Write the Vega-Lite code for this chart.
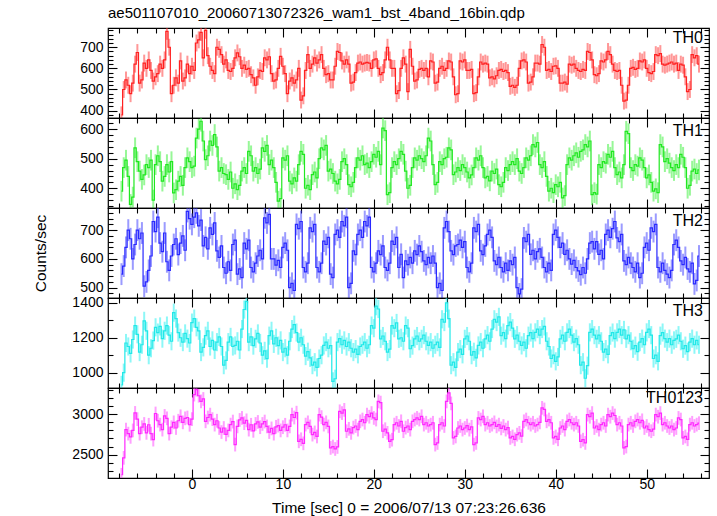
{
"$schema": "https://vega.github.io/schema/vega-lite/v6.json",
"background": "white",
"padding": {"left": 33, "top": 5, "right": 5, "bottom": 3},
"title": {"text": "ae501107010_20060713072326_wam1_bst_4band_16bin.qdp", "anchor": "start", "frame": "group", "fontSize": 15, "fontWeight": "normal", "font": "Liberation Sans", "color": "#000", "offset": 2},
"datasets": {
"err": [{"k": "a", "err": 40}, {"k": "b", "err": 35}, {"k": "c", "err": 38}, {"k": "d", "err": 52}, {"k": "e", "err": 85}],
"lc": [
{"t":-7.75,"a":380,"b":390,"c":547,"d":930,"e":2250},
{"t":-7.5,"a":500,"b":470,"c":575,"d":1000,"e":2460},
{"t":-7.25,"a":545,"b":495,"c":640,"d":1170,"e":2810},
{"t":-7,"a":520,"b":440,"c":700,"d":1150,"e":2760},
{"t":-6.75,"a":480,"b":345,"c":670,"d":1110,"e":2720},
{"t":-6.5,"a":530,"b":370,"c":600,"d":1190,"e":2800},
{"t":-6.25,"a":620,"b":537,"c":650,"d":1270,"e":3017},
{"t":-6,"a":675,"b":490,"c":700,"d":1220,"e":2940},
{"t":-5.75,"a":530,"b":458,"c":670,"d":1118,"e":2760},
{"t":-5.5,"a":545,"b":430,"c":690,"d":1160,"e":2840},
{"t":-5.25,"a":625,"b":445,"c":505,"d":1297,"e":2880},
{"t":-5,"a":600,"b":480,"c":520,"d":1240,"e":2770},
{"t":-4.75,"a":640,"b":470,"c":560,"d":1100,"e":2870},
{"t":-4.5,"a":590,"b":495,"c":610,"d":1140,"e":2760},
{"t":-4.25,"a":540,"b":360,"c":730,"d":1184,"e":2686},
{"t":-4,"a":560,"b":480,"c":695,"d":1260,"e":3010},
{"t":-3.75,"a":575,"b":510,"c":745,"d":1230,"e":2920},
{"t":-3.5,"a":620,"b":490,"c":655,"d":1265,"e":2872},
{"t":-3.25,"a":600,"b":424,"c":625,"d":1195,"e":2810},
{"t":-3,"a":640,"b":440,"c":690,"d":1240,"e":2980},
{"t":-2.75,"a":775,"b":480,"c":590,"d":1270,"e":2950},
{"t":-2.5,"a":700,"b":455,"c":560,"d":1215,"e":2760},
{"t":-2.25,"a":480,"b":490,"c":610,"d":1180,"e":2840},
{"t":-2,"a":520,"b":384,"c":650,"d":1344,"e":2900},
{"t":-1.75,"a":555,"b":395,"c":670,"d":1310,"e":2830},
{"t":-1.5,"a":530,"b":424,"c":615,"d":1230,"e":2920},
{"t":-1.25,"a":635,"b":440,"c":655,"d":1200,"e":2975},
{"t":-1,"a":540,"b":410,"c":680,"d":1175,"e":2900},
{"t":-0.75,"a":555,"b":470,"c":630,"d":1225,"e":2950},
{"t":-0.5,"a":620,"b":503,"c":765,"d":1195,"e":2960},
{"t":-0.25,"a":575,"b":490,"c":740,"d":1170,"e":2870},
{"t":0,"a":610,"b":470,"c":720,"d":1287,"e":2940},
{"t":0.25,"a":590,"b":475,"c":745,"d":1310,"e":3244},
{"t":0.5,"a":720,"b":570,"c":760,"d":1260,"e":3305},
{"t":0.75,"a":735,"b":600,"c":715,"d":1240,"e":3230},
{"t":1,"a":770,"b":627,"c":735,"d":1118,"e":3160},
{"t":1.25,"a":650,"b":560,"c":645,"d":1145,"e":3190},
{"t":1.5,"a":780,"b":497,"c":675,"d":1212,"e":2913},
{"t":1.75,"a":660,"b":510,"c":635,"d":1240,"e":2960},
{"t":2,"a":610,"b":560,"c":708,"d":1150,"e":2996},
{"t":2.25,"a":590,"b":545,"c":685,"d":1185,"e":2940},
{"t":2.5,"a":575,"b":582,"c":725,"d":1130,"e":2872},
{"t":2.75,"a":700,"b":540,"c":628,"d":1175,"e":2920},
{"t":3,"a":690,"b":458,"c":605,"d":1205,"e":2830},
{"t":3.25,"a":665,"b":470,"c":645,"d":1150,"e":2780},
{"t":3.5,"a":620,"b":450,"c":570,"d":1043,"e":2830},
{"t":3.75,"a":640,"b":446,"c":550,"d":1070,"e":2750},
{"t":4,"a":590,"b":430,"c":590,"d":1175,"e":2800},
{"t":4.25,"a":585,"b":455,"c":560,"d":1205,"e":2872},
{"t":4.5,"a":600,"b":400,"c":650,"d":1150,"e":2910},
{"t":4.75,"a":650,"b":415,"c":665,"d":1156,"e":2624},
{"t":5,"a":673,"b":395,"c":547,"d":1180,"e":2850},
{"t":5.25,"a":655,"b":410,"c":565,"d":1130,"e":2930},
{"t":5.5,"a":600,"b":458,"c":535,"d":1250,"e":2955},
{"t":5.75,"a":615,"b":470,"c":655,"d":1362,"e":2890},
{"t":6,"a":595,"b":450,"c":635,"d":1409,"e":2925},
{"t":6.25,"a":600,"b":525,"c":665,"d":1175,"e":2810},
{"t":6.5,"a":570,"b":510,"c":570,"d":1205,"e":2870},
{"t":6.75,"a":555,"b":458,"c":555,"d":1155,"e":2795},
{"t":7,"a":520,"b":470,"c":585,"d":1194,"e":2880},
{"t":7.25,"a":560,"b":450,"c":610,"d":1225,"e":2905},
{"t":7.5,"a":590,"b":465,"c":630,"d":1170,"e":2840},
{"t":7.75,"a":585,"b":537,"c":600,"d":1100,"e":2880},
{"t":8,"a":650,"b":525,"c":743,"d":1125,"e":2910},
{"t":8.25,"a":640,"b":545,"c":725,"d":1080,"e":2850},
{"t":8.5,"a":655,"b":480,"c":755,"d":1212,"e":2780},
{"t":8.75,"a":575,"b":495,"c":600,"d":1240,"e":2825},
{"t":9,"a":540,"b":470,"c":600,"d":1165,"e":2760},
{"t":9.25,"a":545,"b":420,"c":578,"d":1200,"e":2845},
{"t":9.5,"a":600,"b":356,"c":595,"d":1155,"e":2860},
{"t":9.75,"a":657,"b":365,"c":570,"d":1185,"e":2800},
{"t":10,"a":610,"b":503,"c":640,"d":1118,"e":2840},
{"t":10.25,"a":575,"b":495,"c":655,"d":1140,"e":2870},
{"t":10.5,"a":480,"b":510,"c":630,"d":1100,"e":2800},
{"t":10.75,"a":540,"b":424,"c":500,"d":1180,"e":2850},
{"t":11,"a":555,"b":415,"c":515,"d":1250,"e":2996},
{"t":11.25,"a":530,"b":435,"c":490,"d":1275,"e":2960},
{"t":11.5,"a":545,"b":424,"c":720,"d":1230,"e":3020},
{"t":11.75,"a":600,"b":480,"c":705,"d":1175,"e":2665},
{"t":12,"a":450,"b":525,"c":730,"d":1200,"e":2690},
{"t":12.25,"a":470,"b":515,"c":570,"d":1160,"e":2640},
{"t":12.5,"a":590,"b":400,"c":555,"d":1095,"e":2872},
{"t":12.75,"a":665,"b":410,"c":585,"d":1120,"e":2900},
{"t":13,"a":600,"b":395,"c":708,"d":1085,"e":2850},
{"t":13.25,"a":620,"b":446,"c":695,"d":1043,"e":2748},
{"t":13.5,"a":650,"b":455,"c":720,"d":1060,"e":2775},
{"t":13.75,"a":625,"b":435,"c":570,"d":1030,"e":2725},
{"t":14,"a":640,"b":500,"c":555,"d":1081,"e":2996},
{"t":14.25,"a":665,"b":537,"c":585,"d":1100,"e":2965},
{"t":14.5,"a":600,"b":530,"c":662,"d":1156,"e":2872},
{"t":14.75,"a":570,"b":545,"c":650,"d":1175,"e":2900},
{"t":15,"a":575,"b":458,"c":675,"d":1140,"e":2850},
{"t":15.25,"a":545,"b":465,"c":547,"d":1155,"e":2583},
{"t":15.5,"a":545,"b":450,"c":535,"d":950,"e":2600},
{"t":15.75,"a":610,"b":424,"c":685,"d":965,"e":2570},
{"t":16,"a":680,"b":415,"c":700,"d":1175,"e":2595},
{"t":16.25,"a":675,"b":430,"c":675,"d":1195,"e":3037},
{"t":16.5,"a":635,"b":490,"c":730,"d":1160,"e":3015},
{"t":16.75,"a":620,"b":500,"c":715,"d":1185,"e":3055},
{"t":17,"a":640,"b":480,"c":745,"d":1150,"e":2790},
{"t":17.25,"a":620,"b":412,"c":500,"d":1175,"e":2820},
{"t":17.5,"a":530,"b":405,"c":515,"d":1140,"e":2770},
{"t":17.75,"a":535,"b":420,"c":628,"d":1118,"e":2835},
{"t":18,"a":580,"b":470,"c":615,"d":1135,"e":2855},
{"t":18.25,"a":625,"b":503,"c":685,"d":1105,"e":2810},
{"t":18.5,"a":630,"b":495,"c":700,"d":1150,"e":2913},
{"t":18.75,"a":620,"b":510,"c":675,"d":1160,"e":2935},
{"t":19,"a":625,"b":480,"c":730,"d":1175,"e":2895},
{"t":19.25,"a":628,"b":485,"c":715,"d":1140,"e":2996},
{"t":19.5,"a":625,"b":470,"c":745,"d":1160,"e":2970},
{"t":19.75,"a":600,"b":490,"c":570,"d":1270,"e":3015},
{"t":20,"a":640,"b":515,"c":555,"d":1255,"e":2955},
{"t":20.25,"a":645,"b":505,"c":585,"d":1381,"e":2935},
{"t":20.5,"a":600,"b":525,"c":628,"d":1365,"e":3160},
{"t":20.75,"a":570,"b":480,"c":615,"d":1194,"e":3145},
{"t":21,"a":580,"b":604,"c":645,"d":1210,"e":2790},
{"t":21.25,"a":640,"b":595,"c":570,"d":1180,"e":2815},
{"t":21.5,"a":700,"b":378,"c":560,"d":1118,"e":2770},
{"t":21.75,"a":640,"b":385,"c":585,"d":1135,"e":2665},
{"t":22,"a":600,"b":470,"c":662,"d":1270,"e":2685},
{"t":22.25,"a":600,"b":490,"c":650,"d":1255,"e":2872},
{"t":22.5,"a":480,"b":480,"c":675,"d":1285,"e":2895},
{"t":22.75,"a":495,"b":500,"c":570,"d":1194,"e":2855},
{"t":23,"a":600,"b":525,"c":616,"d":1200,"e":2913},
{"t":23.25,"a":650,"b":515,"c":535,"d":1180,"e":2790},
{"t":23.5,"a":620,"b":458,"c":593,"d":1270,"e":2835},
{"t":23.75,"a":490,"b":400,"c":580,"d":1255,"e":2855},
{"t":24,"a":690,"b":410,"c":605,"d":1137,"e":2810},
{"t":24.25,"a":610,"b":470,"c":585,"d":1155,"e":2913},
{"t":24.5,"a":540,"b":503,"c":628,"d":1194,"e":2935},
{"t":24.75,"a":545,"b":495,"c":615,"d":1210,"e":2955},
{"t":25,"a":595,"b":510,"c":645,"d":1180,"e":2935},
{"t":25.25,"a":600,"b":500,"c":625,"d":1194,"e":2975},
{"t":25.5,"a":590,"b":490,"c":593,"d":1215,"e":2872},
{"t":25.75,"a":600,"b":510,"c":580,"d":1180,"e":2895},
{"t":26,"a":560,"b":570,"c":605,"d":1156,"e":2855},
{"t":26.25,"a":635,"b":560,"c":585,"d":1175,"e":2872},
{"t":26.5,"a":630,"b":480,"c":610,"d":1140,"e":2895},
{"t":26.75,"a":530,"b":412,"c":585,"d":1160,"e":2624},
{"t":27,"a":535,"b":420,"c":500,"d":1175,"e":2645},
{"t":27.25,"a":600,"b":490,"c":515,"d":1145,"e":2872},
{"t":27.5,"a":610,"b":480,"c":490,"d":1306,"e":2895},
{"t":27.75,"a":590,"b":500,"c":708,"d":1290,"e":2855},
{"t":28,"a":600,"b":505,"c":730,"d":1400,"e":3160},
{"t":28.25,"a":635,"b":537,"c":695,"d":1310,"e":3265},
{"t":28.5,"a":630,"b":530,"c":628,"d":1043,"e":3135},
{"t":28.75,"a":560,"b":446,"c":615,"d":1060,"e":2707},
{"t":29,"a":475,"b":455,"c":645,"d":1030,"e":2725},
{"t":29.25,"a":480,"b":470,"c":650,"d":1118,"e":2830},
{"t":29.5,"a":635,"b":460,"c":665,"d":1135,"e":2855},
{"t":29.75,"a":630,"b":480,"c":640,"d":1105,"e":2810},
{"t":30,"a":640,"b":470,"c":660,"d":1194,"e":2830},
{"t":30.25,"a":590,"b":455,"c":570,"d":1210,"e":2860},
{"t":30.5,"a":590,"b":435,"c":555,"d":1180,"e":2810},
{"t":30.75,"a":595,"b":445,"c":585,"d":1100,"e":2845},
{"t":31,"a":480,"b":470,"c":708,"d":1120,"e":2624},
{"t":31.25,"a":485,"b":503,"c":695,"d":1085,"e":2645},
{"t":31.5,"a":560,"b":495,"c":720,"d":1156,"e":2955},
{"t":31.75,"a":630,"b":510,"c":628,"d":1175,"e":2935},
{"t":32,"a":620,"b":470,"c":615,"d":1140,"e":2975},
{"t":32.25,"a":625,"b":435,"c":645,"d":1194,"e":2872},
{"t":32.5,"a":620,"b":440,"c":685,"d":1215,"e":2895},
{"t":32.75,"a":555,"b":425,"c":700,"d":1180,"e":2855},
{"t":33,"a":560,"b":458,"c":675,"d":1250,"e":2872},
{"t":33.25,"a":550,"b":450,"c":593,"d":1306,"e":2900},
{"t":33.5,"a":565,"b":465,"c":580,"d":1290,"e":2850},
{"t":33.75,"a":590,"b":412,"c":605,"d":1320,"e":2872},
{"t":34,"a":595,"b":405,"c":570,"d":1212,"e":2825},
{"t":34.25,"a":585,"b":420,"c":555,"d":1230,"e":2855},
{"t":34.5,"a":590,"b":470,"c":585,"d":1195,"e":2810},
{"t":34.75,"a":580,"b":460,"c":560,"d":1270,"e":2835},
{"t":35,"a":515,"b":480,"c":593,"d":1290,"e":2707},
{"t":35.25,"a":520,"b":490,"c":580,"d":1255,"e":2725},
{"t":35.5,"a":510,"b":480,"c":605,"d":1194,"e":2690},
{"t":35.75,"a":520,"b":500,"c":500,"d":1215,"e":2748},
{"t":36,"a":600,"b":458,"c":478,"d":1180,"e":2770},
{"t":36.25,"a":635,"b":450,"c":495,"d":1156,"e":2730},
{"t":36.5,"a":640,"b":470,"c":673,"d":1175,"e":2913},
{"t":36.75,"a":630,"b":503,"c":660,"d":1140,"e":2935},
{"t":37,"a":530,"b":495,"c":685,"d":1212,"e":2895},
{"t":37.25,"a":535,"b":510,"c":616,"d":1230,"e":2872},
{"t":37.5,"a":560,"b":548,"c":630,"d":1195,"e":2895},
{"t":37.75,"a":625,"b":540,"c":600,"d":1231,"e":2855},
{"t":38,"a":625,"b":555,"c":625,"d":1250,"e":2872},
{"t":38.25,"a":620,"b":480,"c":635,"d":1215,"e":2900},
{"t":38.5,"a":713,"b":470,"c":605,"d":1250,"e":3080},
{"t":38.75,"a":700,"b":490,"c":570,"d":1265,"e":3060},
{"t":39,"a":590,"b":440,"c":555,"d":1180,"e":2913},
{"t":39.25,"a":595,"b":390,"c":585,"d":1150,"e":2935},
{"t":39.5,"a":585,"b":400,"c":560,"d":1081,"e":2895},
{"t":39.75,"a":610,"b":385,"c":685,"d":1100,"e":2707},
{"t":40,"a":612,"b":412,"c":700,"d":1065,"e":2725},
{"t":40.25,"a":600,"b":405,"c":675,"d":1090,"e":2690},
{"t":40.5,"a":530,"b":420,"c":640,"d":1194,"e":2830},
{"t":40.75,"a":530,"b":367,"c":655,"d":1215,"e":2855},
{"t":41,"a":535,"b":375,"c":616,"d":1180,"e":2810},
{"t":41.25,"a":525,"b":480,"c":630,"d":1231,"e":2913},
{"t":41.5,"a":620,"b":503,"c":600,"d":1250,"e":2935},
{"t":41.75,"a":615,"b":495,"c":582,"d":1215,"e":2895},
{"t":42,"a":620,"b":510,"c":595,"d":1175,"e":2872},
{"t":42.25,"a":600,"b":520,"c":570,"d":1195,"e":2895},
{"t":42.5,"a":590,"b":505,"c":558,"d":1160,"e":2855},
{"t":42.75,"a":585,"b":525,"c":545,"d":1043,"e":2665},
{"t":43,"a":595,"b":530,"c":570,"d":1060,"e":2685},
{"t":43.25,"a":590,"b":548,"c":550,"d":968,"e":2645},
{"t":43.5,"a":680,"b":540,"c":600,"d":1040,"e":2996},
{"t":43.75,"a":675,"b":560,"c":655,"d":1231,"e":2970},
{"t":44,"a":640,"b":378,"c":660,"d":1250,"e":3015},
{"t":44.25,"a":570,"b":385,"c":635,"d":1215,"e":2830},
{"t":44.5,"a":565,"b":380,"c":660,"d":1194,"e":2855},
{"t":44.75,"a":575,"b":480,"c":616,"d":1215,"e":2810},
{"t":45,"a":635,"b":470,"c":630,"d":1180,"e":2872},
{"t":45.25,"a":630,"b":490,"c":600,"d":1118,"e":2895},
{"t":45.5,"a":640,"b":485,"c":685,"d":1135,"e":2855},
{"t":45.75,"a":680,"b":515,"c":700,"d":1105,"e":2996},
{"t":46,"a":665,"b":505,"c":675,"d":1212,"e":2970},
{"t":46.25,"a":620,"b":525,"c":705,"d":1230,"e":3015},
{"t":46.5,"a":590,"b":470,"c":730,"d":1195,"e":2985},
{"t":46.75,"a":585,"b":446,"c":673,"d":1231,"e":2872},
{"t":47,"a":590,"b":455,"c":660,"d":1250,"e":2895},
{"t":47.25,"a":520,"b":435,"c":685,"d":1215,"e":2855},
{"t":47.5,"a":445,"b":480,"c":593,"d":1245,"e":2583},
{"t":47.75,"a":450,"b":593,"c":580,"d":1194,"e":2600},
{"t":48,"a":520,"b":585,"c":605,"d":1215,"e":2872},
{"t":48.25,"a":600,"b":470,"c":585,"d":1180,"e":2895},
{"t":48.5,"a":605,"b":460,"c":570,"d":1137,"e":2855},
{"t":48.75,"a":595,"b":480,"c":555,"d":1155,"e":2913},
{"t":49,"a":600,"b":475,"c":585,"d":1120,"e":2935},
{"t":49.25,"a":635,"b":503,"c":535,"d":1175,"e":2895},
{"t":49.5,"a":630,"b":495,"c":550,"d":1195,"e":2925},
{"t":49.75,"a":640,"b":470,"c":640,"d":1160,"e":2830},
{"t":50,"a":600,"b":435,"c":655,"d":1231,"e":2855},
{"t":50.25,"a":580,"b":445,"c":630,"d":1250,"e":2810},
{"t":50.5,"a":575,"b":420,"c":708,"d":1215,"e":2790},
{"t":50.75,"a":585,"b":390,"c":695,"d":1081,"e":2815},
{"t":51,"a":665,"b":398,"c":720,"d":1100,"e":2996},
{"t":51.25,"a":660,"b":385,"c":570,"d":1065,"e":2970},
{"t":51.5,"a":670,"b":548,"c":555,"d":1212,"e":3015},
{"t":51.75,"a":620,"b":540,"c":585,"d":1230,"e":2872},
{"t":52,"a":615,"b":490,"c":560,"d":1195,"e":2895},
{"t":52.25,"a":620,"b":500,"c":547,"d":1175,"e":2855},
{"t":52.5,"a":625,"b":485,"c":535,"d":1195,"e":2830},
{"t":52.75,"a":630,"b":470,"c":560,"d":1160,"e":2855},
{"t":53,"a":620,"b":460,"c":650,"d":1185,"e":2810},
{"t":53.25,"a":625,"b":480,"c":665,"d":1194,"e":2830},
{"t":53.5,"a":590,"b":470,"c":640,"d":1215,"e":2955},
{"t":53.75,"a":620,"b":515,"c":593,"d":1180,"e":2935},
{"t":54,"a":615,"b":505,"c":580,"d":1137,"e":2707},
{"t":54.25,"a":560,"b":470,"c":605,"d":1155,"e":2725},
{"t":54.5,"a":490,"b":400,"c":565,"d":1120,"e":2690},
{"t":54.75,"a":500,"b":410,"c":555,"d":1175,"e":2872},
{"t":55,"a":665,"b":458,"c":585,"d":1195,"e":2895},
{"t":55.25,"a":650,"b":465,"c":513,"d":1160,"e":2855},
{"t":55.5,"a":660,"b":450,"c":525,"d":1185,"e":2872},
{"t":55.75,"a":620,"b":462,"c":610,"d":1160,"e":2890}
]
},
"data": {"name": "lc"},
"transform": [
{"fold": ["a", "b", "c", "d", "e"], "as": ["k", "v"]},
{"lookup": "k", "from": {"data": {"name": "err"}, "key": "k", "fields": ["err"]}}
],
"spacing": 0,
"bounds": "flush",
"config": {
"view": {"stroke": "#000", "strokeWidth": 1.2},
"font": "Liberation Sans",
"axis": {"domain": false, "grid": false, "labelFont": "Liberation Sans", "labelFontSize": 14, "labelColor": "#000", "tickColor": "#000", "tickWidth": 1.1, "labelOverlap": false, "labelFlush": false, "labelBound": false, "titleFont": "Liberation Sans", "titleFontSize": 15.5, "titleFontWeight": "normal", "titleColor": "#000"},
"title": {"font": "Liberation Sans", "fontWeight": "normal", "color": "#000"}
},
"vconcat": [
{
"width": 601, "height": 90,
"title": {"text": "TH0", "anchor": "end", "frame": "group", "offset": -23, "fontSize": 16, "dx": -6},
"transform": [{"filter": {"field": "k", "equal": "a"}}],
"resolve": {"axis": {"x": "independent", "y": "independent"}},
"layer": [
{"mark": {"type": "errorbar", "color": "#ff3030", "opacity": 0.5, "thickness": 2, "clip": true},
"encoding": {
"x": {"field": "t", "type": "quantitative", "scale": {"domain": [-9.23, 56.85], "nice": false}, "axis": {"orient": "bottom", "values": [-8,-6,-4,-2,0,2,4,6,8,10,12,14,16,18,20,22,24,26,28,30,32,34,36,38,40,42,44,46,48,50,52,54,56], "labels": false, "title": null, "tickSize": {"condition": {"test": "datum.value % 10 === 0", "value": -9}, "value": -5}}},
"y": {"field": "v", "type": "quantitative", "scale": {"domain": [365, 791], "nice": false, "zero": false}, "axis": {"orient": "left", "format": "d", "values": [380,400,420,440,460,480,500,520,540,560,580,600,620,640,660,680,700,720,740,760,780], "labelExpr": "datum.value % 100 === 0 ? datum.label : ''", "title": null, "labelPadding": 14, "tickSize": {"condition": {"test": "datum.value % 100 === 0", "value": -9}, "value": -5}}},
"yError": {"field": "err"}
}},
{"mark": {"type": "line", "interpolate": "step", "color": "#ff2020", "strokeWidth": 1.2, "clip": true},
"encoding": {
"x": {"field": "t", "type": "quantitative", "scale": {"domain": [-9.23, 56.85], "nice": false}, "axis": {"orient": "top", "values": [-8,-6,-4,-2,0,2,4,6,8,10,12,14,16,18,20,22,24,26,28,30,32,34,36,38,40,42,44,46,48,50,52,54,56], "labels": false, "title": null, "tickSize": {"condition": {"test": "datum.value % 10 === 0", "value": -9}, "value": -5}}},
"y": {"field": "v", "type": "quantitative", "scale": {"domain": [365, 791], "nice": false, "zero": false}, "axis": {"orient": "right", "values": [380,400,420,440,460,480,500,520,540,560,580,600,620,640,660,680,700,720,740,760,780], "labels": false, "title": null, "tickSize": {"condition": {"test": "datum.value % 100 === 0", "value": -9}, "value": -5}}}
}}
]
},
{
"width": 601, "height": 90,
"title": {"text": "TH1", "anchor": "end", "frame": "group", "offset": -23, "fontSize": 16, "dx": -6},
"transform": [{"filter": {"field": "k", "equal": "b"}}],
"resolve": {"axis": {"x": "independent", "y": "independent"}},
"layer": [
{"mark": {"type": "errorbar", "color": "#30f030", "opacity": 0.5, "thickness": 2, "clip": true},
"encoding": {
"x": {"field": "t", "type": "quantitative", "scale": {"domain": [-9.23, 56.85], "nice": false}, "axis": {"orient": "bottom", "values": [-8,-6,-4,-2,0,2,4,6,8,10,12,14,16,18,20,22,24,26,28,30,32,34,36,38,40,42,44,46,48,50,52,54,56], "labels": false, "title": null, "tickSize": {"condition": {"test": "datum.value % 10 === 0", "value": -9}, "value": -5}}},
"y": {"field": "v", "type": "quantitative", "scale": {"domain": [333, 638], "nice": false, "zero": false}, "axis": {"orient": "left", "format": "d", "values": [340,360,380,400,420,440,460,480,500,520,540,560,580,600,620], "labelExpr": "datum.value % 100 === 0 ? datum.label : ''", "title": null, "labelPadding": 14, "tickSize": {"condition": {"test": "datum.value % 100 === 0", "value": -9}, "value": -5}}},
"yError": {"field": "err"}
}},
{"mark": {"type": "line", "interpolate": "step", "color": "#20e820", "strokeWidth": 1.2, "clip": true},
"encoding": {
"x": {"field": "t", "type": "quantitative", "scale": {"domain": [-9.23, 56.85], "nice": false}, "axis": {"orient": "top", "values": [-8,-6,-4,-2,0,2,4,6,8,10,12,14,16,18,20,22,24,26,28,30,32,34,36,38,40,42,44,46,48,50,52,54,56], "labels": false, "title": null, "tickSize": {"condition": {"test": "datum.value % 10 === 0", "value": -9}, "value": -5}}},
"y": {"field": "v", "type": "quantitative", "scale": {"domain": [333, 638], "nice": false, "zero": false}, "axis": {"orient": "right", "values": [340,360,380,400,420,440,460,480,500,520,540,560,580,600,620], "labels": false, "title": null, "tickSize": {"condition": {"test": "datum.value % 100 === 0", "value": -9}, "value": -5}}}
}}
]
},
{
"width": 601, "height": 90,
"title": {"text": "TH2", "anchor": "end", "frame": "group", "offset": -23, "fontSize": 16, "dx": -6},
"transform": [{"filter": {"field": "k", "equal": "c"}}],
"resolve": {"axis": {"x": "independent", "y": "independent"}},
"layer": [
{"mark": {"type": "errorbar", "color": "#3838ff", "opacity": 0.5, "thickness": 2, "clip": true},
"encoding": {
"x": {"field": "t", "type": "quantitative", "scale": {"domain": [-9.23, 56.85], "nice": false}, "axis": {"orient": "bottom", "values": [-8,-6,-4,-2,0,2,4,6,8,10,12,14,16,18,20,22,24,26,28,30,32,34,36,38,40,42,44,46,48,50,52,54,56], "labels": false, "title": null, "tickSize": {"condition": {"test": "datum.value % 10 === 0", "value": -9}, "value": -5}}},
"y": {"field": "v", "type": "quantitative", "scale": {"domain": [464, 777], "nice": false, "zero": false}, "axis": {"orient": "left", "format": "d", "values": [480,500,520,540,560,580,600,620,640,660,680,700,720,740,760], "labelExpr": "datum.value % 100 === 0 ? datum.label : ''", "title": "Counts/sec", "titlePadding": 31, "labelPadding": 14, "tickSize": {"condition": {"test": "datum.value % 100 === 0", "value": -9}, "value": -5}}},
"yError": {"field": "err"}
}},
{"mark": {"type": "line", "interpolate": "step", "color": "#2828ff", "strokeWidth": 1.2, "clip": true},
"encoding": {
"x": {"field": "t", "type": "quantitative", "scale": {"domain": [-9.23, 56.85], "nice": false}, "axis": {"orient": "top", "values": [-8,-6,-4,-2,0,2,4,6,8,10,12,14,16,18,20,22,24,26,28,30,32,34,36,38,40,42,44,46,48,50,52,54,56], "labels": false, "title": null, "tickSize": {"condition": {"test": "datum.value % 10 === 0", "value": -9}, "value": -5}}},
"y": {"field": "v", "type": "quantitative", "scale": {"domain": [464, 777], "nice": false, "zero": false}, "axis": {"orient": "right", "values": [480,500,520,540,560,580,600,620,640,660,680,700,720,740,760], "labels": false, "title": null, "tickSize": {"condition": {"test": "datum.value % 100 === 0", "value": -9}, "value": -5}}}
}}
]
},
{
"width": 601, "height": 90,
"title": {"text": "TH3", "anchor": "end", "frame": "group", "offset": -23, "fontSize": 16, "dx": -6},
"transform": [{"filter": {"field": "k", "equal": "d"}}],
"resolve": {"axis": {"x": "independent", "y": "independent"}},
"layer": [
{"mark": {"type": "errorbar", "color": "#30f0f0", "opacity": 0.55, "thickness": 2, "clip": true},
"encoding": {
"x": {"field": "t", "type": "quantitative", "scale": {"domain": [-9.23, 56.85], "nice": false}, "axis": {"orient": "bottom", "values": [-8,-6,-4,-2,0,2,4,6,8,10,12,14,16,18,20,22,24,26,28,30,32,34,36,38,40,42,44,46,48,50,52,54,56], "labels": false, "title": null, "tickSize": {"condition": {"test": "datum.value % 10 === 0", "value": -9}, "value": -5}}},
"y": {"field": "v", "type": "quantitative", "scale": {"domain": [912, 1428], "nice": false, "zero": false}, "axis": {"orient": "left", "format": "d", "values": [1000,1100,1200,1300,1400], "labelExpr": "datum.value % 200 === 0 ? datum.label : ''", "title": null, "labelPadding": 14, "tickSize": {"condition": {"test": "datum.value % 200 === 0", "value": -9}, "value": -5}}},
"yError": {"field": "err"}
}},
{"mark": {"type": "line", "interpolate": "step", "color": "#20e8e8", "strokeWidth": 1.2, "clip": true},
"encoding": {
"x": {"field": "t", "type": "quantitative", "scale": {"domain": [-9.23, 56.85], "nice": false}, "axis": {"orient": "top", "values": [-8,-6,-4,-2,0,2,4,6,8,10,12,14,16,18,20,22,24,26,28,30,32,34,36,38,40,42,44,46,48,50,52,54,56], "labels": false, "title": null, "tickSize": {"condition": {"test": "datum.value % 10 === 0", "value": -9}, "value": -5}}},
"y": {"field": "v", "type": "quantitative", "scale": {"domain": [912, 1428], "nice": false, "zero": false}, "axis": {"orient": "right", "values": [1000,1100,1200,1300,1400], "labels": false, "title": null, "tickSize": {"condition": {"test": "datum.value % 200 === 0", "value": -9}, "value": -5}}}
}}
]
},
{
"width": 601, "height": 90,
"title": {"text": "TH0123", "anchor": "end", "frame": "group", "offset": -23, "fontSize": 16, "dx": -6},
"transform": [{"filter": {"field": "k", "equal": "e"}}],
"resolve": {"axis": {"x": "independent", "y": "independent"}},
"layer": [
{"mark": {"type": "errorbar", "color": "#ff40ff", "opacity": 0.5, "thickness": 2, "clip": true},
"encoding": {
"x": {"field": "t", "type": "quantitative", "scale": {"domain": [-9.23, 56.85], "nice": false}, "axis": {"orient": "bottom", "values": [-8,-6,-4,-2,0,2,4,6,8,10,12,14,16,18,20,22,24,26,28,30,32,34,36,38,40,42,44,46,48,50,52,54,56], "labelExpr": "datum.value % 10 === 0 ? datum.label : ''", "labelPadding": 8, "title": "Time [sec] 0 = 2006/07/13 07:23:26.636", "titlePadding": 5, "tickSize": {"condition": {"test": "datum.value % 10 === 0", "value": -9}, "value": -5}}},
"y": {"field": "v", "type": "quantitative", "scale": {"domain": [2210, 3326], "nice": false, "zero": false}, "axis": {"orient": "left", "format": "d", "values": [2300,2400,2500,2600,2700,2800,2900,3000,3100,3200,3300], "labelExpr": "datum.value % 500 === 0 ? datum.label : ''", "title": null, "labelPadding": 14, "tickSize": {"condition": {"test": "datum.value % 500 === 0", "value": -9}, "value": -5}}},
"yError": {"field": "err"}
}},
{"mark": {"type": "line", "interpolate": "step", "color": "#ff28ff", "strokeWidth": 1.2, "clip": true},
"encoding": {
"x": {"field": "t", "type": "quantitative", "scale": {"domain": [-9.23, 56.85], "nice": false}, "axis": {"orient": "top", "values": [-8,-6,-4,-2,0,2,4,6,8,10,12,14,16,18,20,22,24,26,28,30,32,34,36,38,40,42,44,46,48,50,52,54,56], "labels": false, "title": null, "tickSize": {"condition": {"test": "datum.value % 10 === 0", "value": -9}, "value": -5}}},
"y": {"field": "v", "type": "quantitative", "scale": {"domain": [2210, 3326], "nice": false, "zero": false}, "axis": {"orient": "right", "values": [2300,2400,2500,2600,2700,2800,2900,3000,3100,3200,3300], "labels": false, "title": null, "tickSize": {"condition": {"test": "datum.value % 500 === 0", "value": -9}, "value": -5}}}
}}
]
}
]
}
